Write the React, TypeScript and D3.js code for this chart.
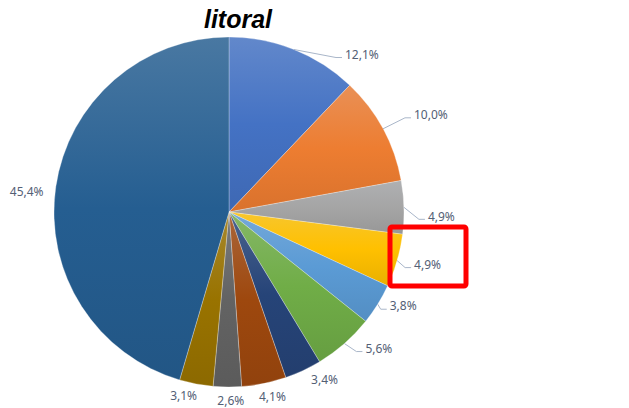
import React from "react";
import * as d3 from "d3";

const width = 629;
const height = 408;

// share of each slice, clockwise from 12 o'clock
const shares = [12.1, 10.0, 4.9, 4.9, 3.8, 5.6, 3.4, 4.1, 2.6, 3.1, 45.4];
const sliceColors = [
  "#4472C4", "#ED7D31", "#A5A5A5", "#FFC000", "#5B9BD5", "#70AD47",
  "#264478", "#9E480E", "#636363", "#997300", "#255E91"
];

// label placement relative to the point where the slice's mid-angle meets the rim
const labelOffsets: [number, number][] = [
  [51, 5], [31, -14], [24, 9], [17, 4], [12, 2], [21, 5],
  [8, 9], [-5, 13], [-10, 14], [-26, 12], [-46, 5]
];
const hasLeader = [true, true, true, true, true, true, false, false, false, false, false];

const cx = 229;
const cy = 212;
const r = 175;

const fmt = d3.formatLocale({ decimal: ",", thousands: ".", grouping: [3], currency: ["", ""] }).format(".1f");

export default function App() {
  const pie = d3.pie<number>().sort(null).value(d => d)(shares);
  const arc = d3.arc<d3.PieArcDatum<number>>().innerRadius(0).outerRadius(r);

  return (
    <svg width={width} height={height} style={{ position: "absolute", left: 0, top: 0, background: "#fff" }}>
      <defs>
        {sliceColors.map((c, i) => (
          <linearGradient key={i} id={"g" + i} x1="0" y1="0" x2="0" y2="1">
            <stop offset="0" stopColor={d3.interpolateRgb(c, "#d8dee8")(0.2)} />
            <stop offset="0.5" stopColor={c} />
            <stop offset="1" stopColor={d3.color(c)!.darker(0.25).formatHex()} />
          </linearGradient>
        ))}
      </defs>
      <text x={238} y={28} textAnchor="middle" fontFamily="Liberation Sans, Arial" fontWeight="bold" fontStyle="italic" fontSize={25} fill="#000">
        litoral
      </text>
      <g transform={`translate(${cx},${cy})`}>
        {pie.map((d, i) => (
          <path key={i} d={arc(d) || ""} fill={`url(#g${i})`} stroke="#fff" strokeWidth={0.4} strokeOpacity={0.7} />
        ))}
      </g>
      {pie.map((d, i) => {
        const a = (d.startAngle + d.endAngle) / 2;
        const ax = cx + r * Math.sin(a);
        const ay = cy - r * Math.cos(a);
        const tx = ax + labelOffsets[i][0];
        const ty = ay + labelOffsets[i][1];
        return (
          <g key={i}>
            {hasLeader[i] && (
              <polyline
                points={`${ax},${ay} ${tx - 9},${ty + 3} ${tx - 3},${ty + 3}`}
                fill="none"
                stroke="#a9b6c9"
                strokeWidth={1}
              />
            )}
            <text x={tx} y={ty} dy="0.35em" fontFamily="Noto Sans, sans-serif" fontSize={12} fill="#536075">
              {fmt(shares[i]) + "%"}
            </text>
          </g>
        );
      })}
      <rect x={390} y={227} width={76} height={59} rx={2} fill="none" stroke="#ff0000" strokeWidth={5} />
    </svg>
  );
}
